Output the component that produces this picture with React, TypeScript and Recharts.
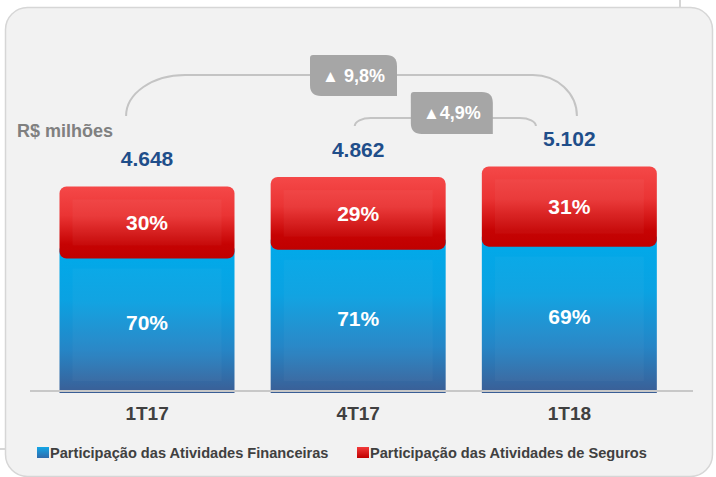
import React from 'react';
import { BarChart, Bar, XAxis, YAxis, LabelList, ReferenceLine, Legend } from 'recharts';

const categories = ['1T17', '4T17', '1T18'];
const totals = [4648, 4862, 5102];
const totalLabels = ['4.648', '4.862', '5.102'];
const financeirasPct = [70, 71, 69];
const segurosPct = [30, 29, 31];
const seriesNames = ['Participação das Atividades Financeiras', 'Participação das Atividades de Seguros'];
const growth = [
  { from: '1T17', to: '1T18', label: '9,8%', gap: ' ' },
  { from: '4T17', to: '1T18', label: '4,9%', gap: '' },
];
const unitLabel = 'R$ milhões';

const data = categories.map((cat, i) => ({
  cat,
  fin: (totals[i] * financeirasPct[i]) / 100,
  seg: (totals[i] * segurosPct[i]) / 100,
  total: totalLabels[i],
  finPct: financeirasPct[i] + '%',
  segPct: segurosPct[i] + '%',
}));

const FONT = '"Liberation Sans", Arial, sans-serif';

// annotation geometry (styling)
const bracketLayout = [
  { level: 7160, left: -21, right: 7.5, drop: 41, rxL: 59, rxR: 44, badgeDx: 2, w: 87, top: -20, h: 41 },
  { level: 6191, left: -3.5, right: -33.5, drop: 8, rxL: 16, rxR: 16, badgeDx: 6.5, w: 82, top: -26, h: 42 },
];

const badgePath = (x: number, y: number, w: number, h: number) => {
  const rs = 3;
  const rb = 11;
  return `M${x + rs},${y} L${x + w - rb},${y} Q${x + w},${y} ${x + w},${y + rb} L${x + w},${y + h} L${x + rb},${y + h} Q${x},${y + h} ${x},${y + h - rb} L${x},${y + rs} Q${x},${y} ${x + rs},${y} Z`;
};

const makeBracket = (idx: number) => (p: any) => {
  const g = bracketLayout[idx];
  const { x1, x2, y1 } = p;
  const L = x1 + g.left;
  const R = x2 + g.right;
  const y = y1;
  const d = `M${L},${y + g.drop} A${g.rxL} ${g.drop} 0 0 1 ${L + g.rxL},${y} L${R - g.rxR},${y} A${g.rxR} ${g.drop} 0 0 1 ${R},${y + g.drop}`;
  const cx = (L + R) / 2 + g.badgeDx;
  const bx = cx - g.w / 2;
  const by = y + g.top;
  return (
    <g>
      <path d={d} fill="none" stroke="#c4c4c4" strokeWidth={2} />
      <path d={badgePath(bx, by, g.w, g.h)} fill="#a6a6a6" />
      <text x={cx} y={by + g.h / 2} dy="0.36em" textAnchor="middle" fill="#ffffff" fontWeight="bold" fontSize={18} fontFamily={FONT}>
        <tspan fontSize={17}>▲</tspan>
        {growth[idx].gap}
        {growth[idx].label}
      </text>
    </g>
  );
};

const AxisLineShape = (p: any) => {
  const { x1, x2, y1 } = p;
  return <line x1={x1 - 11.5} x2={x2 + 18} y1={y1 - 2} y2={y1 - 2} stroke="#c8c8c8" strokeWidth={2} />;
};

const RedShape = (p: any) => {
  const { x, y, width, height } = p;
  const h = height + 10;
  return (
    <g>
      <rect x={x} y={y} width={width} height={h} rx={7} ry={7} fill="url(#segGrad)" />
      <rect x={x + 13} y={y + 13} width={width - 26} height={h - 26} fill="#ffffff" fillOpacity={0.04} />
    </g>
  );
};

const BlueShape = (p: any) => {
  const { x, y, width, height } = p;
  return (
    <g>
      <rect x={x} y={y} width={width} height={height} fill="url(#finGrad)" />
      <rect x={x + 13} y={y + 20} width={width - 26} height={height - 32} fill="#ffffff" fillOpacity={0.03} />
    </g>
  );
};

const FinLabel = (p: any) => {
  const { x, y, width, height, value } = p;
  return (
    <text x={x + width / 2} y={y + height / 2 + 2} dy="0.36em" textAnchor="middle" fill="#ffffff" fontWeight="bold" fontSize={21} fontFamily={FONT}>
      {value}
    </text>
  );
};

const SegLabel = (p: any) => {
  const { x, y, width, height, value } = p;
  return (
    <text x={x + width / 2} y={y + height / 2 + 5} dy="0.36em" textAnchor="middle" fill="#ffffff" fontWeight="bold" fontSize={21} fontFamily={FONT}>
      {value}
    </text>
  );
};

const TotalLabel = (p: any) => {
  const { x, y, width, value } = p;
  return (
    <text x={x + width / 2} y={y - 28} dy="0.36em" textAnchor="middle" fill="#1f4e8a" fontWeight="bold" fontSize={21} fontFamily={FONT}>
      {value}
    </text>
  );
};

const LegendContent = () => (
  <svg width={716} height={20} style={{ display: 'block' }}>
    <defs>
      <linearGradient id="legFin" x1="0" y1="0" x2="0" y2="1">
        <stop offset="0%" stopColor="#14a6e6" />
        <stop offset="100%" stopColor="#2f6aac" />
      </linearGradient>
      <linearGradient id="legSeg" x1="0" y1="0" x2="0" y2="1">
        <stop offset="0%" stopColor="#f23a3a" />
        <stop offset="100%" stopColor="#c00000" />
      </linearGradient>
    </defs>
    <rect x={37} y={5} width={12} height={11} fill="url(#legFin)" />
    <text x={50} y={10.5} dy="0.36em" fill="#404040" fontWeight="bold" fontSize={14.6} fontFamily={FONT}>
      {seriesNames[0]}
    </text>
    <rect x={357} y={5} width={12} height={11} fill="url(#legSeg)" />
    <text x={370} y={10.5} dy="0.36em" fill="#404040" fontWeight="bold" fontSize={14.6} fontFamily={FONT}>
      {seriesNames[1]}
    </text>
  </svg>
);

export default function App() {
  return (
    <div style={{ position: 'absolute', left: 0, top: 0, width: 716, height: 477, background: '#ffffff', overflow: 'hidden' }}>
      <svg width={716} height={477} style={{ position: 'absolute', left: 0, top: 0 }}>
        <line x1={680} x2={680} y1={0} y2={8} stroke="#c8c8c8" strokeWidth={1.5} />
        <line x1={0} x2={6} y1={449} y2={449} stroke="#c8c8c8" strokeWidth={1.5} />
        <rect x={5.5} y={7.5} width={707} height={469} rx={22} ry={22} fill="#f2f2f2" stroke="#d6d6d6" strokeWidth={1.5} />
        <text x={17} y={131} dy="0.36em" fill="#808080" fontWeight="bold" fontSize={18} fontFamily={FONT}>
          {unitLabel}
        </text>
      </svg>
      <div style={{ position: 'absolute', left: 0, top: 0 }}>
        <BarChart
          width={716}
          height={477}
          data={data}
          margin={{ top: 11, right: 41, bottom: 54, left: 41.5 }}
          style={{ fontFamily: FONT }}
        >
          <defs>
            <linearGradient id="finGrad" x1="0" y1="0" x2="0" y2="1">
              <stop offset="0%" stopColor="#00aaea" />
              <stop offset="35%" stopColor="#0aa2e2" />
              <stop offset="70%" stopColor="#2585c6" />
              <stop offset="100%" stopColor="#3b5e95" />
            </linearGradient>
            <linearGradient id="segGrad" x1="0" y1="0" x2="0" y2="1">
              <stop offset="0%" stopColor="#f54848" />
              <stop offset="40%" stopColor="#ea3434" />
              <stop offset="80%" stopColor="#c60303" />
              <stop offset="100%" stopColor="#c00000" />
            </linearGradient>
          </defs>
          <XAxis
            dataKey="cat"
            height={30}
            axisLine={false}
            tickLine={false}
            tickSize={0}
            tickMargin={14}
            tick={{ fill: '#404040', fontSize: 19, fontWeight: 'bold', fontFamily: FONT }}
          />
          <YAxis hide domain={[0, 8600]} />
          <Bar dataKey="fin" stackId="a" barSize={175} shape={BlueShape} isAnimationActive={false}>
            <LabelList dataKey="finPct" content={FinLabel} />
          </Bar>
          <Bar dataKey="seg" stackId="a" barSize={175} shape={RedShape} isAnimationActive={false}>
            <LabelList dataKey="segPct" content={SegLabel} />
            <LabelList dataKey="total" content={TotalLabel} />
          </Bar>
          <ReferenceLine y={0} ifOverflow="visible" shape={AxisLineShape} />
          {growth.map((g, i) => (
            <ReferenceLine
              key={g.label}
              segment={[
                { x: g.from, y: bracketLayout[i].level },
                { x: g.to, y: bracketLayout[i].level },
              ]}
              ifOverflow="visible"
              shape={makeBracket(i)}
            />
          ))}
          <Legend
            layout="horizontal"
            verticalAlign="middle"
            align="center"
            wrapperStyle={{ top: 442, left: 0, width: 716, height: 20 }}
            content={LegendContent}
          />
        </BarChart>
      </div>
    </div>
  );
}
